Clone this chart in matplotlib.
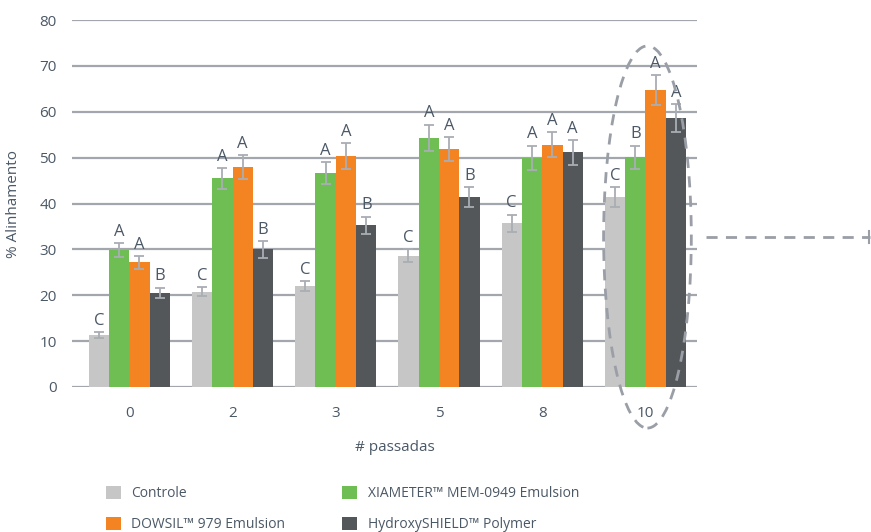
import matplotlib.pyplot as plt
import numpy as np
from matplotlib.patches import Ellipse
from matplotlib.lines import Line2D

plt.rcParams['font.family'] = ['Open Sans', 'DejaVu Sans']

passes = ['0', '2', '3', '5', '8', '10']
series = ['Controle', 'XIAMETER™ MEM-0949 Emulsion', 'DOWSIL™ 979 Emulsion', 'HydroxySHIELD™ Polymer']
colors = ['#c6c6c6', '#6fbe54', '#f38421', '#53575a']

controle = [11.3, 20.8, 22.0, 28.6, 35.7, 41.4]
xiameter = [29.9, 45.5, 46.6, 54.3, 50.0, 50.1]
dowsil = [27.2, 48.0, 50.4, 51.9, 52.8, 64.7]
hydroxy = [20.5, 30.0, 35.3, 41.4, 51.2, 58.6]

err_controle = [0.7, 1.0, 1.1, 1.45, 1.9, 2.1]
err_xiameter = [1.55, 2.3, 2.4, 2.9, 2.6, 2.5]
err_dowsil = [1.4, 2.6, 2.8, 2.6, 2.7, 3.3]
err_hydroxy = [1.15, 1.8, 1.85, 2.1, 2.7, 3.0]

letters_controle = ['C', 'C', 'C', 'C', 'C', 'C']
letters_xiameter = ['A', 'A', 'A', 'A', 'A', 'B']
letters_dowsil = ['A', 'A', 'A', 'A', 'A', 'A']
letters_hydroxy = ['B', 'B', 'B', 'B', 'A', 'A']

values = [controle, xiameter, dowsil, hydroxy]
errors = [err_controle, err_xiameter, err_dowsil, err_hydroxy]
letters = [letters_controle, letters_xiameter, letters_dowsil, letters_hydroxy]

text_color = '#4b5866'
grid_color = '#a3a6ad'
err_color = '#a9aeb4'
dash_color = '#9a9ea6'

fig = plt.figure(figsize=(8.71, 5.32), dpi=100)
ax = fig.add_axes([72 / 871, 1 - 387 / 532, 625 / 871, 367 / 532])

x = np.arange(len(passes))
width = 0.197
for i, (vals, errs, lets) in enumerate(zip(values, errors, letters)):
    pos = x + (i - 1.5) * width
    ax.bar(pos, vals, width=width, color=colors[i], label=series[i], zorder=3)
    ax.errorbar(pos, vals, yerr=errs, fmt='none', ecolor=err_color,
                elinewidth=1.3, capsize=3.5, capthick=1.3, zorder=4)
    for p, v, e, l in zip(pos, vals, errs, lets):
        ax.text(p, v + e + 0.7, l, ha='center', va='bottom',
                fontsize=12, color=text_color)

ax.set_xlim(-0.555, 5.5)
ax.set_ylim(0, 80)
ax.set_yticks(range(0, 81, 10))
ax.yaxis.grid(True, color=grid_color, linewidth=1.6, zorder=0)
ax.set_axisbelow(True)
for s in ax.spines.values():
    s.set_visible(False)
ax.set_xticks(x)
ax.set_xticklabels(passes)
ax.tick_params(length=0, labelsize=11, labelcolor=text_color)
ax.tick_params(axis='y', pad=11)
ax.tick_params(axis='x', pad=14)
ax.set_xlabel('# passadas', fontsize=11, color=text_color)
ax.xaxis.set_label_coords(0.517, -0.145)
ax.set_ylabel('% Alinhamento', fontsize=11, color=text_color, labelpad=13)

# dashed ellipse highlighting the last group
ell = Ellipse((5.02, 32.7), 0.85, 83.3, fill=False, edgecolor=dash_color,
              linewidth=2, linestyle=(0, (4, 3)), clip_on=False, zorder=5)
ax.add_patch(ell)
fig.add_artist(Line2D([706 / 871, 870 / 871], [1 - 237 / 532] * 2,
                      color=dash_color, linewidth=2, linestyle=(0, (4, 3))))
fig.add_artist(Line2D([869 / 871] * 2, [1 - 231 / 532, 1 - 243 / 532],
                      color=dash_color, linewidth=1.5))

handles, labels = ax.get_legend_handles_labels()
order = [0, 2, 1, 3]
leg = fig.legend([handles[k] for k in order], [labels[k] for k in order],
                 loc='upper left', bbox_to_anchor=(93 / 871, 1 - 473 / 532),
                 ncol=2, frameon=False, fontsize=10, handlelength=1.1,
                 handleheight=1.1, handletextpad=0.75, columnspacing=4.1,
                 labelspacing=1.15)
for t in leg.get_texts():
    t.set_color(text_color)

fig.savefig('out.png', dpi=100)
